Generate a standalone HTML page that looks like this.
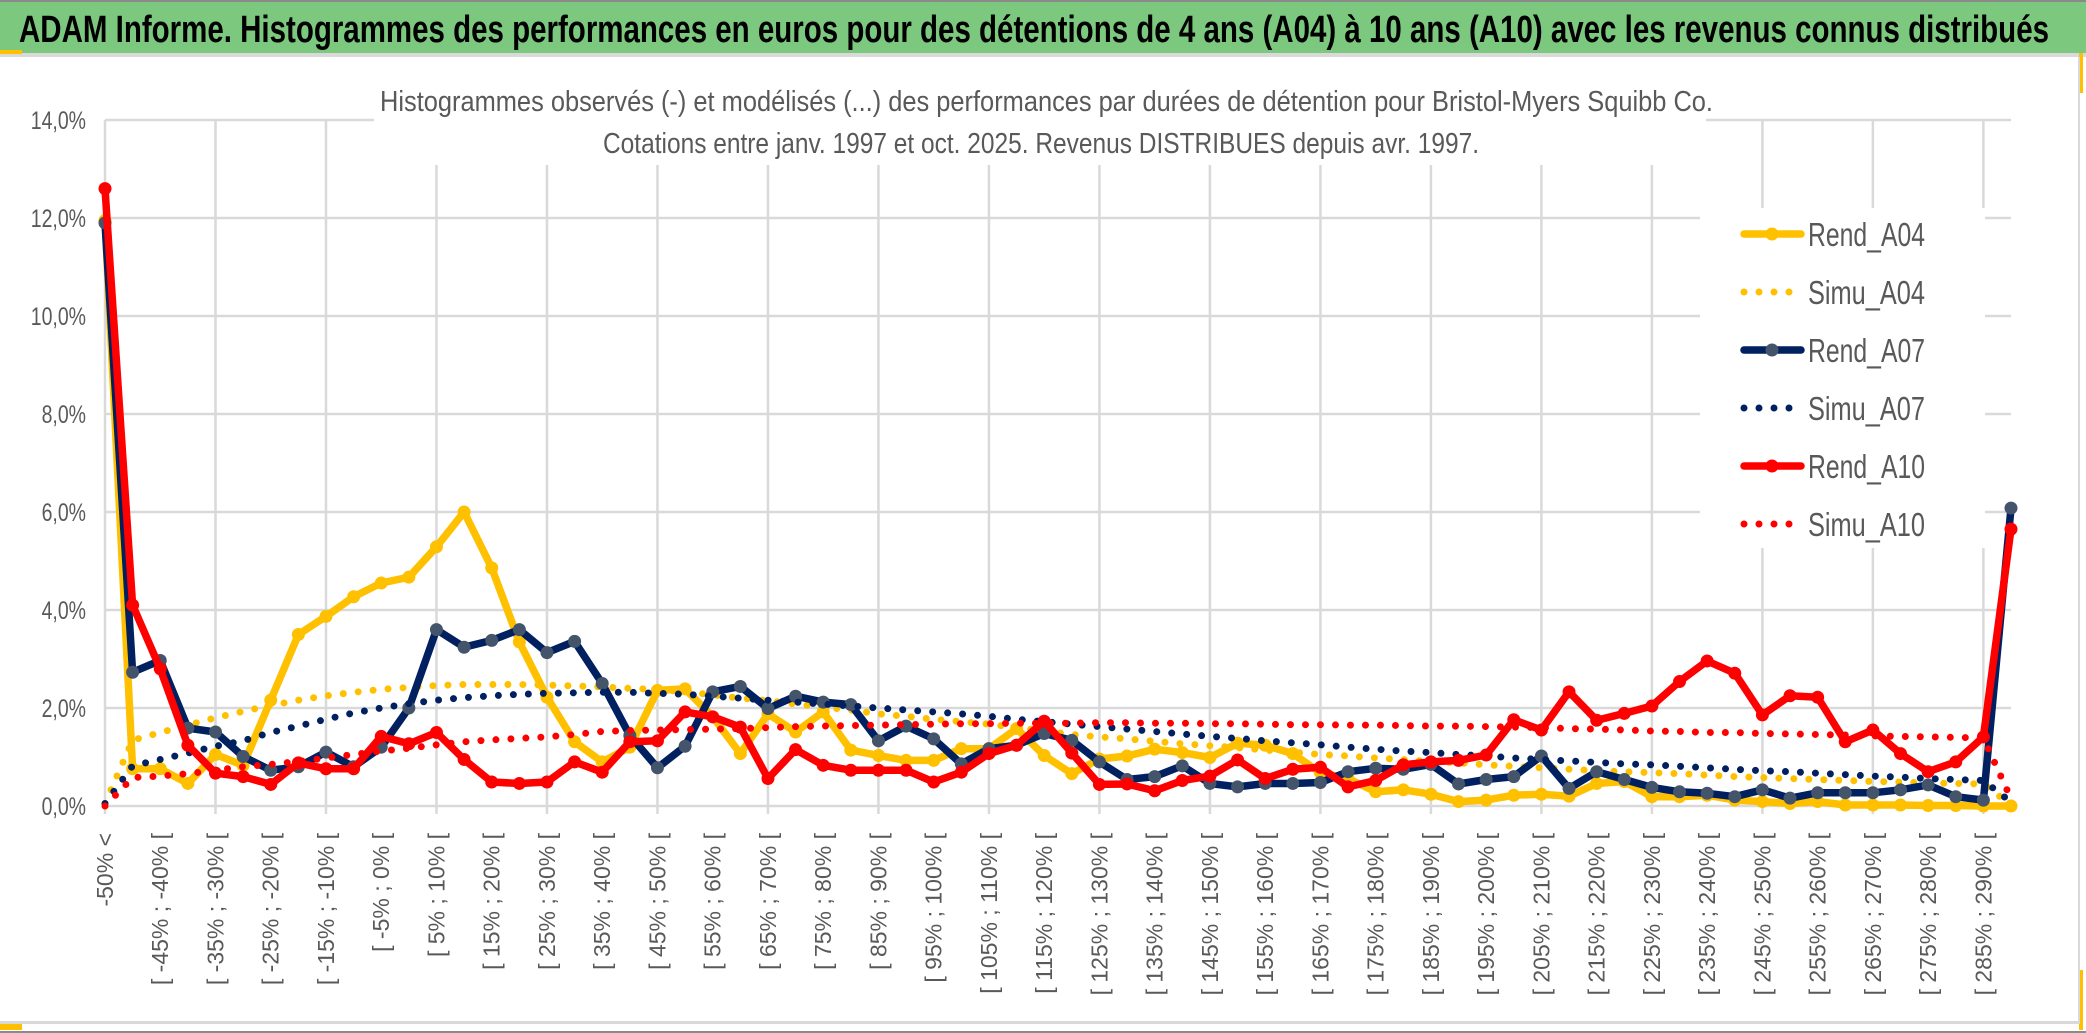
<!DOCTYPE html>
<html><head><meta charset="utf-8"><style>
html,body{margin:0;padding:0;background:#fff;}
svg{display:block;font-family:"Liberation Sans",sans-serif;}
</style></head><body>
<svg id="chart" width="2086" height="1033" viewBox="0 0 2086 1033">
  <rect x="0" y="0" width="2086" height="1033" fill="#fff"/>
  <rect x="0" y="0" width="2086" height="2" fill="#8a8a8a"/>
  <rect x="0" y="2" width="2086" height="51" fill="#7dc87f"/>
  <rect x="0" y="53" width="2086" height="4" fill="#d9d9d9"/>
  <rect x="0" y="50" width="22" height="4" fill="#ffc000"/>
  <rect x="0" y="1024" width="22" height="6" fill="#ffc000"/>
  <rect x="2079" y="53" width="4" height="40" fill="#ffc000"/>
  <rect x="2079" y="970" width="4" height="60" fill="#ffc000"/>
  <rect x="2078" y="57" width="2" height="966" fill="#d9d9d9"/>
  <rect x="0" y="1021" width="2080" height="3" fill="#d9d9d9"/>
  <rect x="0" y="1031" width="2086" height="2" fill="#8a8a8a"/>
  <text x="19" y="42" font-size="38" font-weight="bold" fill="#000" textLength="2030" lengthAdjust="spacingAndGlyphs">ADAM Informe. Histogrammes des performances en euros pour des détentions de 4 ans (A04) à 10 ans (A10) avec les revenus connus distribués</text>
  <g id="grid"></g>
  <rect x="374" y="85" width="1332" height="80" fill="#fff"/>
  <text x="380" y="111" font-size="29" fill="#595959" textLength="1333" lengthAdjust="spacingAndGlyphs">Histogrammes observés (-) et modélisés (...) des performances par durées de détention pour Bristol-Myers Squibb Co.</text>
  <text x="603" y="153" font-size="29" fill="#595959" textLength="876" lengthAdjust="spacingAndGlyphs">Cotations entre janv. 1997 et oct. 2025. Revenus DISTRIBUES depuis avr. 1997.</text>
  <g id="yaxis"></g>
  <g id="xaxis"></g>
  <g id="series"></g>
  <g id="legend"></g>
</svg>
<script>
const categoryCount = 70;
const yTicks = [0, 2, 4, 6, 8, 10, 12, 14];
const yTickLabels = ["0,0%", "2,0%", "4,0%", "6,0%", "8,0%", "10,0%", "12,0%", "14,0%"];
const rendA04 = [11.95,0.76,0.76,0.46,1.05,0.83,2.16,3.5,3.87,4.27,4.55,4.67,5.29,6.0,4.86,3.35,2.22,1.31,0.9,1.2,2.36,2.39,1.82,1.07,1.88,1.51,1.92,1.14,1.03,0.93,0.93,1.17,1.17,1.58,1.03,0.66,0.96,1.02,1.16,1.09,0.99,1.28,1.24,1.07,0.68,0.56,0.29,0.33,0.24,0.09,0.12,0.22,0.24,0.2,0.46,0.5,0.19,0.19,0.22,0.12,0.09,0.05,0.09,0.02,0.02,0.02,0.01,0.01,0.0,0.0];
const simuA04 = [0.05,1.34,1.5,1.65,1.8,1.93,2.05,2.16,2.25,2.32,2.38,2.42,2.46,2.48,2.48,2.48,2.47,2.45,2.43,2.4,2.38,2.33,2.27,2.2,2.15,2.08,2.02,1.96,1.88,1.83,1.77,1.72,1.67,1.6,1.53,1.46,1.41,1.37,1.32,1.27,1.23,1.19,1.14,1.1,1.05,1.02,0.98,0.95,0.91,0.88,0.84,0.81,0.78,0.75,0.72,0.7,0.68,0.66,0.63,0.6,0.58,0.56,0.54,0.52,0.5,0.49,0.47,0.46,0.45,0.02];
const rendA07 = [11.9,2.73,2.97,1.59,1.51,1.01,0.73,0.8,1.1,0.8,1.2,2.0,3.6,3.24,3.38,3.6,3.13,3.36,2.5,1.44,0.78,1.22,2.33,2.44,1.99,2.24,2.12,2.07,1.33,1.63,1.37,0.86,1.17,1.24,1.48,1.34,0.9,0.54,0.6,0.82,0.46,0.39,0.46,0.46,0.48,0.7,0.77,0.75,0.85,0.45,0.54,0.6,1.02,0.36,0.7,0.54,0.38,0.29,0.26,0.19,0.33,0.16,0.27,0.27,0.27,0.33,0.43,0.19,0.12,6.08];
const simuA07 = [0.05,0.82,0.95,1.08,1.22,1.33,1.5,1.63,1.77,1.9,2.0,2.09,2.16,2.21,2.25,2.28,2.3,2.31,2.32,2.32,2.3,2.28,2.24,2.2,2.16,2.12,2.08,2.04,2.0,1.96,1.92,1.88,1.83,1.77,1.72,1.67,1.62,1.57,1.52,1.47,1.42,1.38,1.33,1.29,1.25,1.2,1.16,1.12,1.09,1.05,1.02,0.98,0.95,0.92,0.89,0.86,0.84,0.81,0.78,0.75,0.72,0.7,0.67,0.64,0.61,0.59,0.56,0.54,0.52,0.08];
const rendA10 = [12.6,4.1,2.8,1.24,0.67,0.6,0.44,0.88,0.76,0.76,1.42,1.27,1.5,0.95,0.49,0.46,0.49,0.9,0.69,1.31,1.33,1.92,1.82,1.61,0.56,1.15,0.83,0.73,0.73,0.73,0.49,0.69,1.07,1.24,1.73,1.08,0.44,0.45,0.31,0.52,0.61,0.94,0.56,0.75,0.79,0.39,0.52,0.84,0.9,0.93,1.04,1.76,1.55,2.33,1.75,1.89,2.04,2.54,2.96,2.71,1.86,2.25,2.22,1.31,1.55,1.07,0.7,0.9,1.41,5.65];
const simuA10 = [0.0,0.58,0.61,0.66,0.73,0.8,0.85,0.91,0.98,1.05,1.12,1.18,1.25,1.31,1.35,1.38,1.41,1.46,1.52,1.54,1.55,1.56,1.57,1.58,1.6,1.62,1.63,1.64,1.65,1.66,1.67,1.68,1.68,1.69,1.69,1.69,1.7,1.7,1.69,1.69,1.68,1.68,1.67,1.66,1.66,1.65,1.65,1.64,1.63,1.63,1.62,1.61,1.6,1.58,1.57,1.55,1.53,1.52,1.5,1.5,1.48,1.47,1.46,1.45,1.43,1.42,1.41,1.4,1.39,0.15];
const seriesNames = ["Rend_A04", "Simu_A04", "Rend_A07", "Simu_A07", "Rend_A10", "Simu_A10"];

const NS = "http://www.w3.org/2000/svg";
const PX0 = 105, PX1 = 2011, PY0 = 806, PYTOP = 120;
function xPos(i) { return PX0 + i * (PX1 - PX0) / (categoryCount - 1); }
function yPos(v) { return PY0 - v * (PY0 - PYTOP) / 14; }
function mk(tag, attrs, parent) {
  const e = document.createElementNS(NS, tag);
  for (const k in attrs) e.setAttribute(k, attrs[k]);
  parent.appendChild(e);
  return e;
}
function catLabel(i) {
  if (i === 0) return "-50% <";
  const a = -50 + 5 * (i - 1);
  return "[ " + a + "% ; " + (a + 5) + "% [";
}

const grid = document.getElementById("grid");
yTicks.forEach(function (t) {
  const l = mk("line", {x1: PX0, x2: PX1, y1: yPos(t), y2: yPos(t), stroke: "#d9d9d9", "stroke-width": 2.5}, grid);
  
  
});
for (let i = 0; i < categoryCount; i += 4) {
  const l = mk("line", {x1: xPos(i), x2: xPos(i), y1: PYTOP, y2: PY0 + 8, stroke: "#d9d9d9", "stroke-width": 2.5}, grid);
  
  
}

const yaxis = document.getElementById("yaxis");
yTicks.forEach(function (t, k) {
  const tx = mk("text", {x: 0, y: 0, "font-size": 25, fill: "#595959", "text-anchor": "end",
    transform: "translate(86," + (yPos(t) + 9) + ") scale(0.78,1)"}, yaxis);
  tx.textContent = yTickLabels[k];
  
  
});

const xaxis = document.getElementById("xaxis");
for (let i = 0; i < categoryCount; i += 2) {
  const tx = mk("text", {x: 0, y: 0, "font-size": 23, fill: "#595959", "text-anchor": "end",
    transform: "translate(" + (xPos(i) + 8) + ",833) rotate(-90)"}, xaxis);
  tx.textContent = catLabel(i);
  
  
}

const seriesG = document.getElementById("series");
function pathOf(arr) {
  return arr.map(function (v, i) { return (i ? "L" : "M") + xPos(i).toFixed(1) + " " + yPos(v).toFixed(1); }).join(" ");
}
function drawRend(arr, color, marker, name) {
  const g = mk("g", {}, seriesG);
  
  
  const p = mk("path", {d: pathOf(arr), fill: "none", stroke: color, "stroke-width": 7.5, "stroke-linejoin": "round"}, g);
  
  
  arr.forEach(function (v, i) {
    const c = mk("circle", {cx: xPos(i), cy: yPos(v), r: 6.5, fill: marker}, g);
    
    
  });
}
function drawSimu(arr, color, name) {
  const p = mk("path", {d: pathOf(arr), fill: "none", stroke: color, "stroke-width": 7, "stroke-linecap": "round", "stroke-dasharray": "0 15"}, seriesG);
  
  
}
drawRend(rendA04, "#ffc000", "#ffc000", "rend-a04");
drawSimu(simuA04, "#ffc000", "simu-a04");
drawRend(rendA07, "#002060", "#44546a", "rend-a07");
drawSimu(simuA07, "#002060", "simu-a07");
drawRend(rendA10, "#ff0000", "#ff0000", "rend-a10");
drawSimu(simuA10, "#ff0000", "simu-a10");

const legend = document.getElementById("legend");
const lb = mk("rect", {x: 1700, y: 208, width: 285, height: 340, fill: "#fff"}, legend);


const legColors = ["#ffc000", "#ffc000", "#002060", "#002060", "#ff0000", "#ff0000"];
const legMarkers = ["#ffc000", null, "#44546a", null, "#ff0000", null];
seriesNames.forEach(function (nm, k) {
  const cy = 234 + k * 58;
  const g = mk("g", {}, legend);
  
  
  if (legMarkers[k]) {
    mk("line", {x1: 1744, x2: 1801, y1: cy, y2: cy, stroke: legColors[k], "stroke-width": 7.5, "stroke-linecap": "round"}, g);
    mk("circle", {cx: 1772, cy: cy, r: 6.5, fill: legMarkers[k]}, g);
  } else {
    mk("line", {x1: 1744, x2: 1792, y1: cy, y2: cy, stroke: legColors[k], "stroke-width": 7, "stroke-linecap": "round", "stroke-dasharray": "0 15"}, g);
  }
  const t = mk("text", {x: 1808, y: cy + 12, "font-size": 33, fill: "#595959", textLength: 117, lengthAdjust: "spacingAndGlyphs"}, g);
  t.textContent = nm;
});
</script>
</body></html>
